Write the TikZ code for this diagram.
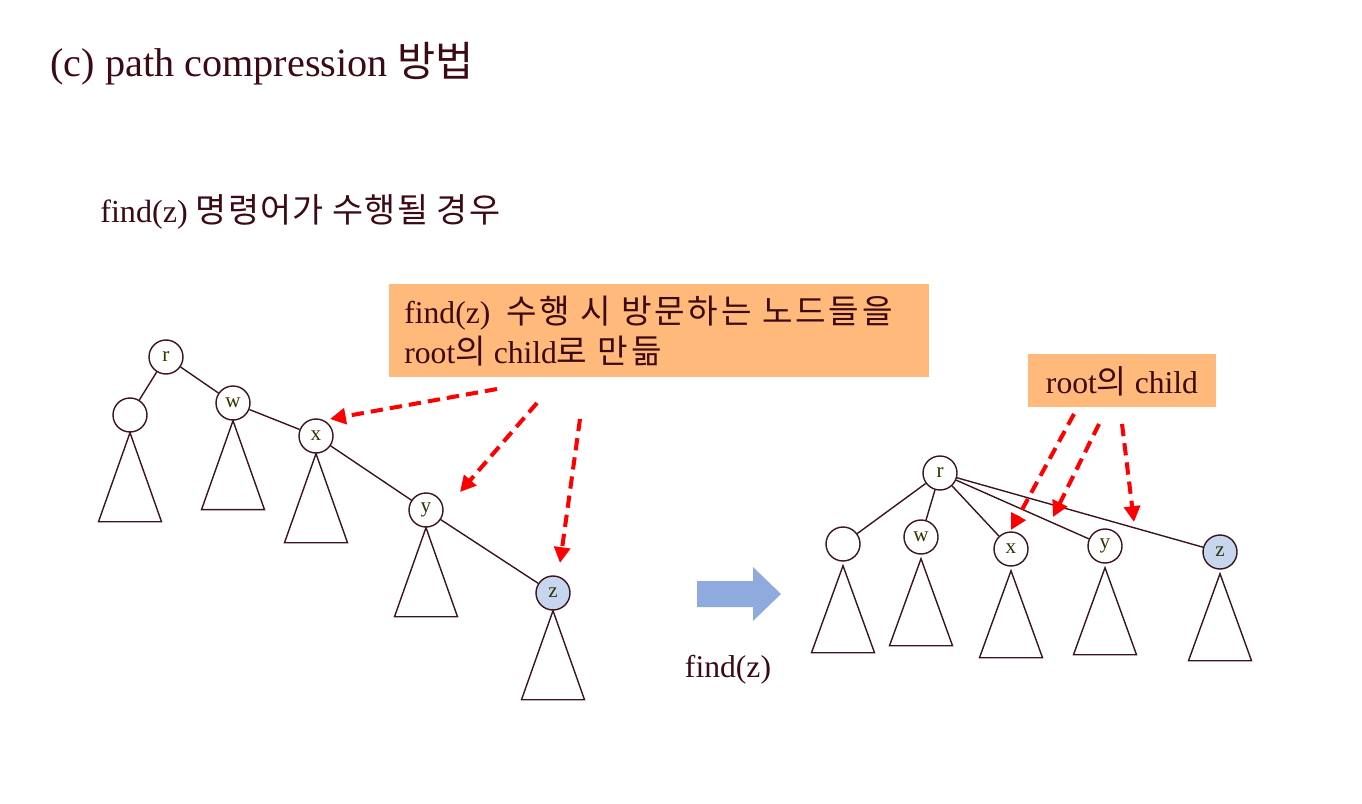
\documentclass[tikz,border=0pt]{standalone}
\usepackage{fontspec}
\setmainfont{Liberation Serif}
\newfontfamily\kr[Scale=1.03]{Noto Sans CJK KR}
\newfontfamily\krs[Scale=1.05,LetterSpace=3.6]{Noto Sans CJK KR}
\newfontfamily\krb[Scale=1.05,LetterSpace=8.5]{Noto Sans CJK KR}
\usetikzlibrary{arrows.meta}
\definecolor{txt}{RGB}{60,10,20}
\definecolor{lbl}{RGB}{51,51,0}
\definecolor{edge}{RGB}{60,20,30}
\definecolor{boxfill}{RGB}{255,185,122}
\definecolor{zfill}{RGB}{197,214,238}
\definecolor{bluearrow}{RGB}{143,170,220}
\begin{document}
\begin{tikzpicture}[x=0.02cm,y=-0.02cm,
  every node/.style={text=txt},
  tnode/.style={circle,draw=edge,line width=0.8pt,fill=white,inner sep=0pt,minimum size=0.68cm,text=lbl,font=\fontsize{12}{14}\selectfont},
  znode/.style={tnode,fill=zfill},
  tedge/.style={draw=edge,line width=0.8pt},
  subtree/.style={draw=edge,line width=0.8pt},
  redarrow/.style={draw=red,line width=2.3pt,dash pattern=on 7pt off 4pt,-{Triangle[length=9pt,width=9pt]}},
  callout/.style={fill=boxfill,draw=none}]
\useasboundingbox (0,0) rectangle (1362,804);

% titles
\node[anchor=base west,inner sep=0pt,font=\fontsize{22.9}{26}\selectfont] (title) at (50,77) {(c) path compression {\kr 방법}};
\node[anchor=base west,inner sep=0pt,font=\fontsize{18.3}{22}\selectfont] (sub) at (100,223) {find(z) {\krs 명령어가 수행될 경우}};

% left callout
\fill[callout] (389,284) rectangle (929,377);
\node[anchor=base west,inner sep=0pt,font=\fontsize{18}{22}\selectfont] (c1) at (404,323) {find(z)\ \ {\krb 수행 시 방문하는 노드들을}};
\node[anchor=base west,inner sep=0pt,font=\fontsize{18}{22}\selectfont] (c2) at (404,363) {root{\krb 의} child{\krb 로 만듦}};

% left tree
\node[tnode] (r) at (166,357) {r};
\node[tnode] (u) at (130,415) {};
\node[tnode] (w) at (233,403) {w};
\node[tnode] (x) at (316,436) {x};
\node[tnode] (y) at (426,510) {y};
\node[znode] (z) at (553,593) {z};
\draw[tedge] (r) -- (u);
\draw[tedge] (r) -- (w);
\draw[tedge] (w) -- (x);
\draw[tedge] (x) -- (y);
\draw[tedge] (y) -- (z);
\foreach \n in {u,w,x,y,z}{
  \draw[subtree] (\n.south) -- ++(-31.5,89) -- ++(63,0) -- cycle;
}

% left red arrows
\coordinate (a1s) at (497,389);
\coordinate (a1e) at (330,419);
\coordinate (a2s) at (537,403);
\coordinate (a2e) at (460,492);
\coordinate (a3s) at (580,419);
\coordinate (a3e) at (560,563);
\draw[redarrow] (a1s) -- (a1e);
\draw[redarrow] (a2s) -- (a2e);
\draw[redarrow] (a3s) -- (a3e);

% blue arrow
\fill[bluearrow] (697,581) -- (753,581) -- (753,567) -- (781,594) -- (753,621) -- (753,607) -- (697,607) -- cycle;
\node[anchor=base,inner sep=0pt,font=\fontsize{18}{22}\selectfont] (fz) at (728,677) {find(z)};

% right callout
\fill[callout] (1028,354) rectangle (1216,407);
\node[inner sep=0pt,font=\fontsize{18}{22}\selectfont,anchor=base] (c3) at (1122,393) {root{\kr 의} child};

% right tree
\node[tnode] (R) at (940,473) {r};
\node[tnode] (U) at (843,544) {};
\node[tnode] (W) at (921,537) {w};
\node[tnode] (X) at (1011,549) {x};
\node[tnode] (Y) at (1105,546) {y};
\node[znode] (Z) at (1220,552) {z};
\foreach \n in {U,W,X,Y,Z}{
  \draw[tedge] (R) -- (\n);
}
\foreach \n in {U,W,X,Y,Z}{
  \draw[subtree] ([yshift=-0.08cm]\n.south) -- ++(-31.5,87) -- ++(63,0) -- cycle;
}

% right red arrows
\coordinate (b1s) at (1074,414);
\coordinate (b1e) at (1011,530);
\coordinate (b2s) at (1099,424);
\coordinate (b2e) at (1053,517);
\coordinate (b3s) at (1122,424);
\coordinate (b3e) at (1134,522);
\draw[redarrow] (b1s) -- (b1e);
\draw[redarrow] (b2s) -- (b2e);
\draw[redarrow] (b3s) -- (b3e);
\end{tikzpicture}
\end{document}
